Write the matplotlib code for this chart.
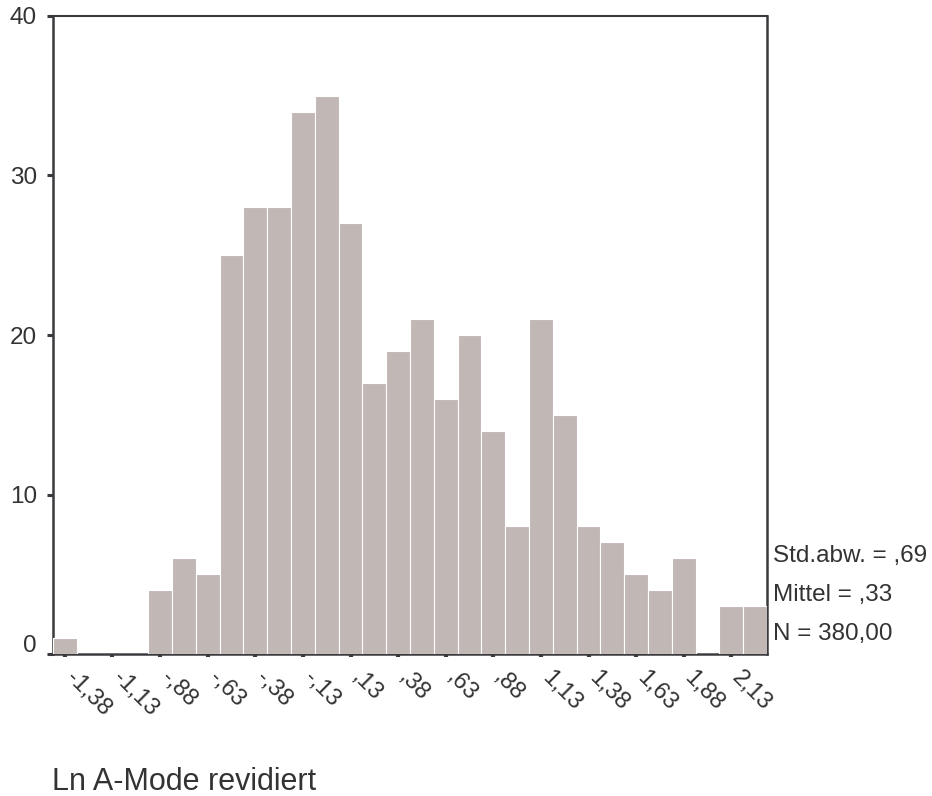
import numpy as np
import matplotlib.pyplot as plt
from matplotlib.transforms import ScaledTranslation

plt.rcParams['font.family'] = ['Liberation Sans', 'DejaVu Sans']

# Histogramm-Daten (Klassenbreite 0,125)
bin_start = -1.4375
bin_width = 0.125
counts = [1, 0, 0, 0, 4, 6, 5, 25, 28, 28, 34, 35, 27, 17, 19, 21, 16, 20,
          14, 8, 21, 15, 8, 7, 5, 4, 6, 0, 3, 3]
tick_values = [-1.375, -1.125, -0.875, -0.625, -0.375, -0.125, 0.125, 0.375,
               0.625, 0.875, 1.125, 1.375, 1.625, 1.875, 2.125]
tick_labels = ['-1,38', '-1,13', '-,88', '-,63', '-,38', '-,13', ',13', ',38',
               ',63', ',88', '1,13', '1,38', '1,63', '1,88', '2,13']
y_ticks = [0, 10, 20, 30, 40]
stats = ['Std.abw. = ,69', 'Mittel = ,33', 'N = 380,00']
x_title = 'Ln A-Mode revidiert'

dark = '#3a3a3e'
text_color = '#333333'
bar_color = '#c1b8b5'

edges = bin_start + bin_width * np.arange(len(counts) + 1)
centers = edges[:-1] + bin_width / 2

fig = plt.figure(figsize=(9.32, 7.96), dpi=100)
ax = fig.add_axes([53 / 932, 1 - 654 / 796, 714 / 932, 638 / 796])

ax.bar(centers, counts, width=bin_width, color=bar_color, edgecolor='white',
       linewidth=0.8, zorder=3)

ax.set_xlim(edges[0], edges[-1])
ax.set_ylim(0, 40)

for side in ['left', 'bottom', 'right']:
    ax.spines[side].set_linewidth(1.8)
    ax.spines[side].set_color(dark)
ax.spines['top'].set_linewidth(1.5)
ax.spines['top'].set_color(dark)

ax.set_yticks(y_ticks)
ax.set_yticklabels([str(v) for v in y_ticks])
ax.tick_params(axis='y', length=4.5, width=2.2, color=dark, labelsize=17.5,
               labelcolor=text_color, pad=7)
ax.set_xticks(tick_values)
ax.set_xticklabels(tick_labels)
ax.tick_params(axis='x', length=2, width=3, color=dark, labelsize=17,
               labelcolor=text_color, pad=2)

for lab in ax.get_xticklabels():
    lab.set_rotation(-45)
    lab.set_ha('left')
    lab.set_va('top')
    lab.set_rotation_mode('anchor')
    lab.set_transform(lab.get_transform() + ScaledTranslation(0.12, -0.07, fig.dpi_scale_trans))

# Null-Beschriftung etwas hoeher
zero_lab = ax.get_yticklabels()[0]
zero_lab.set_transform(zero_lab.get_transform() + ScaledTranslation(0, 0.11, fig.dpi_scale_trans))

for i, s in enumerate(stats):
    fig.text(773 / 932, 1 - (562 + 39 * i) / 796, s, fontsize=17.5,
             color=text_color, va='baseline', ha='left')

fig.text(52 / 932, 6 / 796, x_title, fontsize=22, color=text_color,
         ha='left', va='baseline')

fig.savefig('out.png', dpi=100)
